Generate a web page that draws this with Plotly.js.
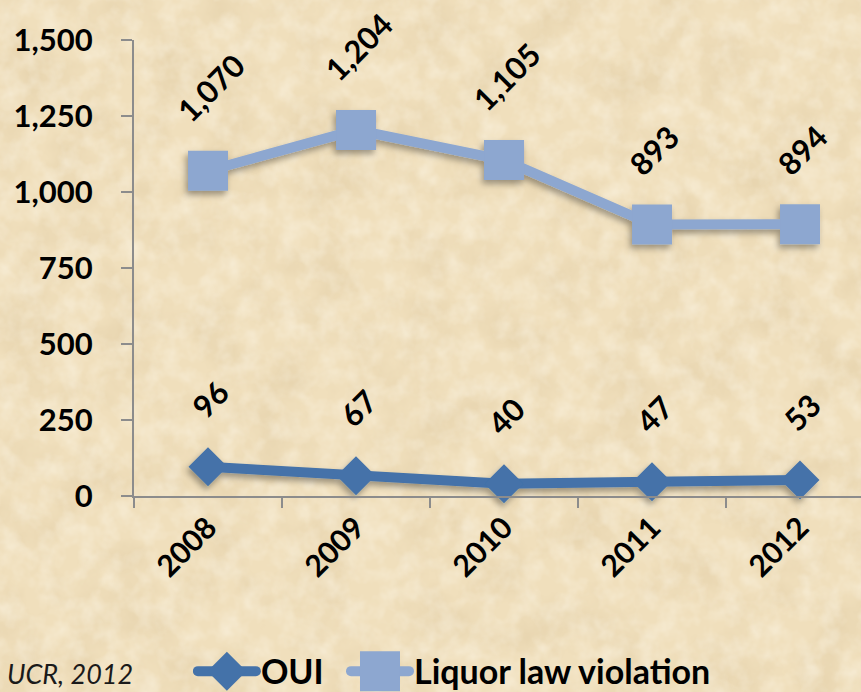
<!DOCTYPE html>
<html>
<head>
<meta charset="utf-8">
<script src="https://cdn.plot.ly/plotly-3.0.1.min.js"></script>
<style>
  html, body { margin: 0; padding: 0; }
  body {
    width: 861px; height: 692px; overflow: hidden;
    background-color: #F0DFBC;
    background-image: url("data:image/svg+xml;utf8,<svg xmlns='http://www.w3.org/2000/svg' width='861' height='692'><filter id='n'><feTurbulence type='fractalNoise' baseFrequency='0.02' numOctaves='5' seed='3'/><feColorMatrix values='0 0 0 0 0.65  0 0 0 0 0.5  0 0 0 0 0.28  0.6 0 0 0 -0.24'/></filter><filter id='m'><feTurbulence type='fractalNoise' baseFrequency='0.05' numOctaves='3' seed='8'/><feColorMatrix values='0 0 0 0 1  0 0 0 0 0.97  0 0 0 0 0.88  0 0.8 0 0 -0.3'/></filter><rect width='100%' height='100%' filter='url(%23n)'/><rect width='100%' height='100%' filter='url(%23m)'/></svg>");
  }
  #chart { position: absolute; left: 0; top: 0; width: 861px; height: 692px; }
</style>
</head>
<body>
<div id="chart"></div>
<script>
// ---- data ----
const years = ['2008', '2009', '2010', '2011', '2012'];
const ouiValues = [96, 67, 40, 47, 53];
const liquorValues = [1070, 1204, 1105, 893, 894];
const seriesNames = ['OUI', 'Liquor law violation'];
const yTickValues = [0, 250, 500, 750, 1000, 1250, 1500];
const sourceNote = 'UCR, 2012';

// ---- styling ----
const FONT = 'Lato, "Open Sans", sans-serif';
const ouiColor = '#4472A9';
const liquorColor = '#8DA7D0';
const markerSizes = [30, 40];

const traces = [
  {
    x: years, y: ouiValues, name: seriesNames[0], type: 'scatter', mode: 'lines+markers',
    line: { color: ouiColor, width: 10 },
    marker: { symbol: 'diamond', size: markerSizes[0], color: ouiColor },
    cliponaxis: false, hoverinfo: 'skip', legend: 'legend'
  },
  {
    x: years, y: liquorValues, name: seriesNames[1], type: 'scatter', mode: 'lines+markers',
    line: { color: liquorColor, width: 10 },
    marker: { symbol: 'square', size: markerSizes[1], color: liquorColor },
    cliponaxis: false, hoverinfo: 'skip', legend: 'legend2'
  }
];

const fmt = v => v.toLocaleString('en-US');
const annotations = [];
[ouiValues, liquorValues].forEach(vals => {
  vals.forEach((v, i) => {
    annotations.push({
      // category index of years[i]
      x: years.indexOf(years[i]), y: v, xref: 'x', yref: 'y', text: '<b>' + fmt(v) + '</b>',
      showarrow: false, textangle: -45, xanchor: 'center', yanchor: 'bottom',
      xshift: 2, yshift: 39,
      font: { family: FONT, size: 31, color: '#000', weight: 900 }
    });
  });
});
annotations.push({
  x: -0.177, y: -0.39, xref: 'paper', yref: 'paper', xanchor: 'left', yanchor: 'middle',
  text: '<i>' + sourceNote + '</i>', showarrow: false,
  font: { family: FONT, size: 27, color: '#1a1a1a' }
});

const legendFont = { family: FONT, size: 34, color: '#000', weight: 'bold' };
const layout = {
  width: 861, height: 692,
  margin: { l: 134, r: 0, t: 40, b: 196, pad: 0, autoexpand: false },
  paper_bgcolor: 'rgba(0,0,0,0)', plot_bgcolor: 'rgba(0,0,0,0)',
  font: { family: FONT, color: '#000' },
  showlegend: true,
  legend: {
    orientation: 'h', x: 0.081, y: -0.385, xanchor: 'left', yanchor: 'middle',
    bgcolor: 'rgba(0,0,0,0)', font: legendFont, itemwidth: 58
  },
  legend2: {
    orientation: 'h', x: 0.2916, y: -0.385, xanchor: 'left', yanchor: 'middle',
    bgcolor: 'rgba(0,0,0,0)', font: legendFont, itemwidth: 58
  },
  xaxis: {
    type: 'category', range: [-0.5, 4.412], automargin: false,
    showline: true, linecolor: '#8C8C8C', linewidth: 2,
    ticks: 'outside', tickson: 'boundaries', ticklen: 10, tickcolor: '#8C8C8C', tickwidth: 2,
    tickangle: -45, showgrid: false, zeroline: false,
    tickfont: { family: FONT, size: 30, color: '#000', weight: 'bold' }
  },
  yaxis: {
    range: [0, 1500], tickvals: yTickValues, tickformat: ',', automargin: false,
    showline: true, linecolor: '#8C8C8C', linewidth: 2,
    ticks: 'outside', ticklen: 11, tickcolor: '#8C8C8C', tickwidth: 2,
    showgrid: false, zeroline: false, ticklabelstandoff: 22,
    tickfont: { family: FONT, size: 31, color: '#000', weight: 'bold' }
  },
  annotations: annotations
};

Plotly.newPlot('chart', traces, layout, { staticPlot: true, displayModeBar: false }).then(gd => {
  const svg = gd.querySelector('svg.main-svg');
  const ns = 'http://www.w3.org/2000/svg';
  let defs = svg.querySelector('defs');
  const f = document.createElementNS(ns, 'filter');
  f.setAttribute('id', 'dropsh');
  f.setAttribute('x', '-20%'); f.setAttribute('y', '-20%');
  f.setAttribute('width', '140%'); f.setAttribute('height', '160%');
  const ds = document.createElementNS(ns, 'feDropShadow');
  ds.setAttribute('dx', '-2'); ds.setAttribute('dy', '4');
  ds.setAttribute('stdDeviation', '3');
  ds.setAttribute('flood-color', '#000'); ds.setAttribute('flood-opacity', '0.35');
  f.appendChild(ds);
  defs.appendChild(f);
  gd.querySelectorAll('.scatterlayer .trace').forEach(t => t.setAttribute('filter', 'url(#dropsh)'));

  // enlarge legend symbols to match the chart's markers and line width
  const legendIds = ['legend', 'legend2'];
  legendIds.forEach((id, k) => {
    const lg = gd.querySelector('g.' + id);
    if (!lg) return;
    lg.querySelectorAll('.legendlines path').forEach(p => {
      p.style.strokeWidth = '10px';
      p.style.strokeLinecap = 'round';
    });
    lg.querySelectorAll('.legendpoints path').forEach(p => {
      const bb = p.getBBox();
      if (!bb.width) return;
      const target = k === 0 ? markerSizes[0] * 1.3 : markerSizes[1];
      const s = target / bb.width;
      const t = p.getAttribute('transform') || '';
      p.setAttribute('transform', t + ' scale(' + s.toFixed(3) + ')');
    });
  });
});
</script>
</body>
</html>
